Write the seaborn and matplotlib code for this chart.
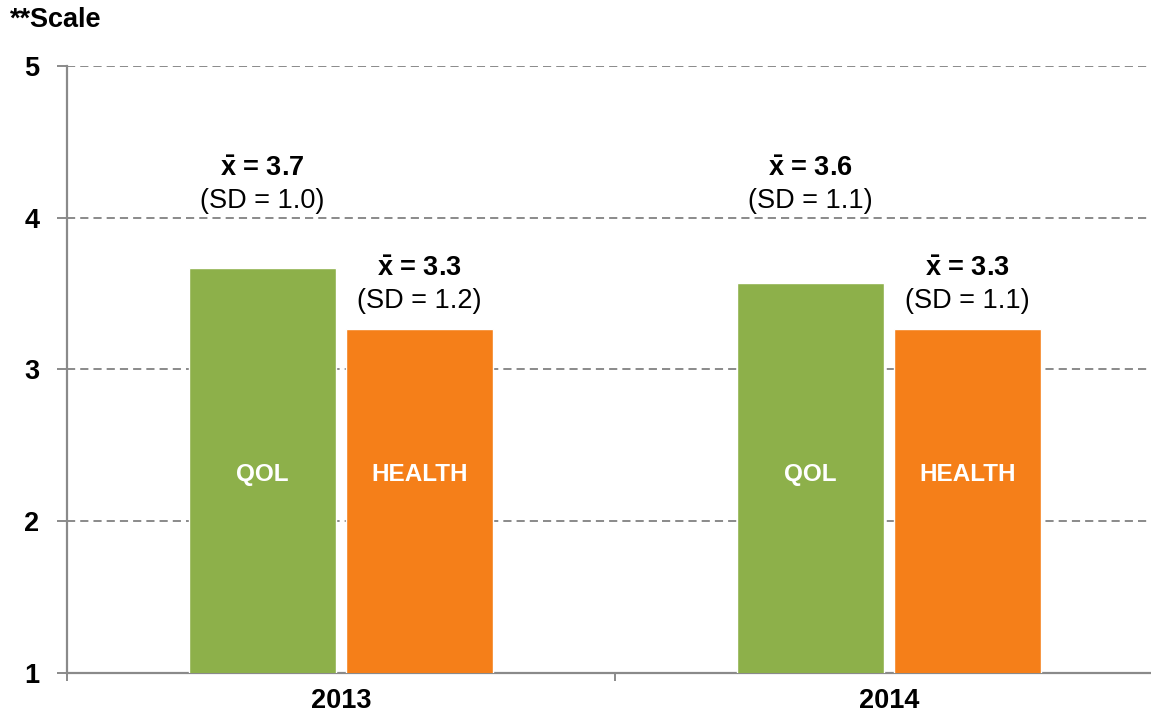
import pandas as pd
import matplotlib
matplotlib.use('Agg')
import matplotlib.pyplot as plt
import seaborn as sns

# data
years = ['2013', '2013', '2014', '2014']
measures = ['QOL', 'HEALTH', 'QOL', 'HEALTH']
means = [3.67, 3.27, 3.57, 3.27]
sds = [1.0, 1.2, 1.1, 1.1]

df = pd.DataFrame({'year': years, 'measure': measures, 'mean': means, 'sd': sds})

sns.set_theme(style='white')
plt.rcParams['font.family'] = ['Liberation Sans', 'DejaVu Sans']
plt.rcParams['mathtext.fontset'] = 'custom'
plt.rcParams['mathtext.rm'] = 'Liberation Sans'
plt.rcParams['mathtext.bf'] = 'Liberation Sans:bold'
plt.rcParams['text.color'] = 'black'

green = '#8db04a'
orange = '#f57f19'
axis_grey = '#8a8a8a'

fig = plt.figure(figsize=(11.51, 7.17), dpi=100)
ax = fig.add_axes([67 / 1151, 44 / 717, 1084 / 1151, 607 / 717])

sns.barplot(data=df, x='year', y='mean', hue='measure', hue_order=['QOL', 'HEALTH'],
            palette=[green, orange], width=0.573, gap=0.064, saturation=1,
            legend=False, ax=ax, zorder=3)

ax.set_yticks([1, 2, 3, 4, 5])
ax.set_xticks([-0.5, 0.5, 1.5], minor=True)
ax.set_ylim(1, 5)
ax.set_xlim(-0.5, 1.478)
ax.yaxis.grid(True, linestyle=(0, (4.2, 2.6)), color=axis_grey, linewidth=1.4, zorder=0)
ax.set_axisbelow(True)
ax.set_xlabel('')
ax.set_ylabel('')

for side in ['top', 'right']:
    ax.spines[side].set_visible(False)
for side in ['left', 'bottom']:
    ax.spines[side].set_color(axis_grey)
    ax.spines[side].set_linewidth(1.6)

ax.tick_params(axis='y', which='major', direction='out', length=7, width=1.4,
               color=axis_grey, labelcolor='black', left=True, pad=13, labelsize=19.5)
ax.tick_params(axis='x', which='major', length=0, pad=11, labelsize=19.5,
               labelcolor='black')
ax.tick_params(axis='x', which='minor', direction='out', length=6, width=1.4,
               color=axis_grey, bottom=True)
for lab in ax.get_xticklabels() + ax.get_yticklabels():
    lab.set_fontweight('bold')

# label offsets (points above the highest bar of each series)
offsets = {'QOL': (71, 48), 'HEALTH': (43, 20)}
inside_y = 1 + (max(means) - 1) / 2

for container, meas in zip(ax.containers, ['QOL', 'HEALTH']):
    sub = df[df['measure'] == meas].reset_index(drop=True)
    top = sub['mean'].max()
    for bar, (_, row) in zip(container, sub.iterrows()):
        cx = bar.get_x() + bar.get_width() / 2
        ax.annotate(f"$\\mathbf{{\\bar{{x}}}}$ = {row['mean']:.1f}", (cx, top),
                    xytext=(0, offsets[meas][0]), textcoords='offset points',
                    ha='center', va='center', fontsize=19.5, fontweight='bold')
        ax.annotate(f"(SD = {row['sd']:.1f})", (cx, top),
                    xytext=(0, offsets[meas][1]), textcoords='offset points',
                    ha='center', va='center', fontsize=19.5)
        ax.annotate(meas, (cx, inside_y), xytext=(0, -3), textcoords='offset points',
                    ha='center', va='center', color='white',
                    fontsize=17.5, fontweight='bold', zorder=4)

fig.text(10 / 1151, 1 - 20 / 717, '**Scale', ha='left', va='center',
         fontsize=19.5, fontweight='bold')

plt.savefig('out.png', dpi=100)
plt.close()
